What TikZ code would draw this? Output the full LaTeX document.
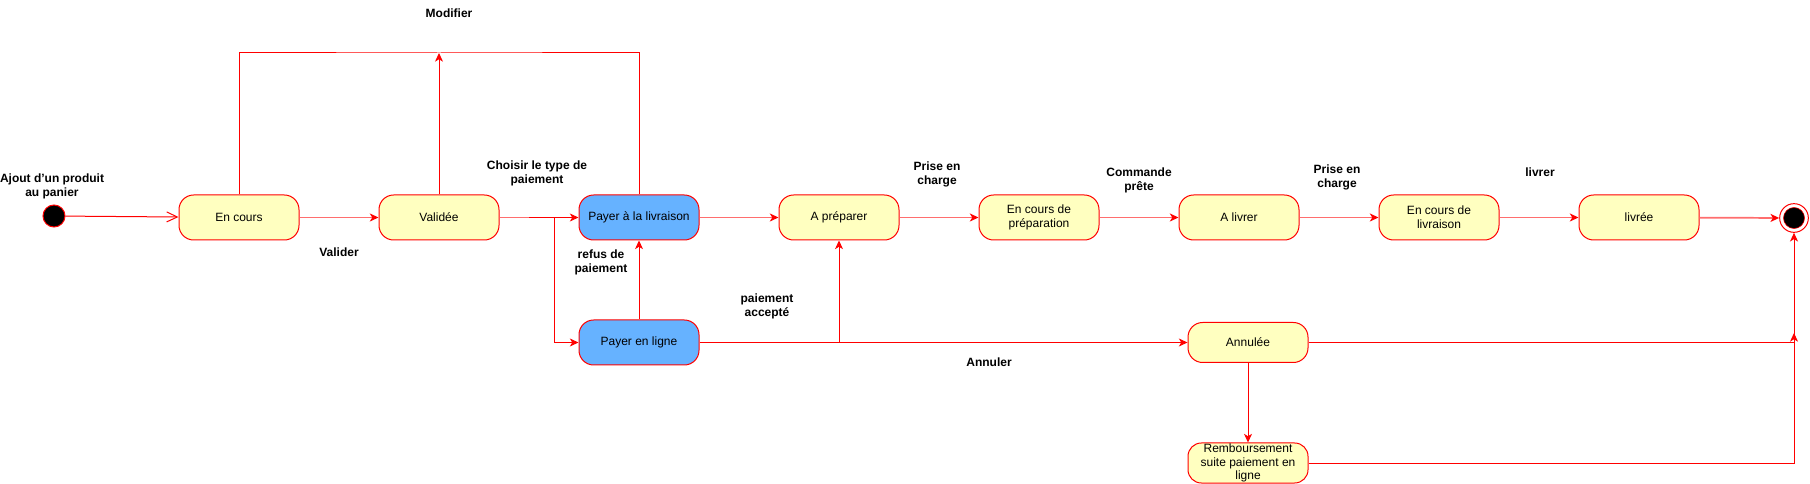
\documentclass[tikz,border=0pt]{standalone}
\usepackage{fontspec}
\setmainfont{Liberation Sans}
\usetikzlibrary{arrows.meta}
\definecolor{stfill}{HTML}{FFFFC0}
\definecolor{stblue}{HTML}{66B2FF}
\definecolor{lred}{HTML}{FF0000}
\definecolor{pale}{HTML}{FF6E6E}
\begin{document}
\begin{tikzpicture}[x=0.75pt,y=-0.75pt,
  statebox/.style={draw=lred, fill=stfill, rounded corners=11pt, minimum width=90pt,
    minimum height=33.75pt, inner sep=0pt, align=center, line width=0.75pt,
    font=\fontsize{9}{10.3}\selectfont},
  paybox/.style={statebox, fill=stblue},
  lbl/.style={font=\bfseries\fontsize{9}{10.5}\selectfont, align=center, inner sep=0pt},
  edge/.style={draw=lred, line width=0.75pt, -{Stealth[length=6.5pt,width=6pt,inset=1.8pt]}},
  paleedge/.style={draw=pale, line width=1.3pt, -{Stealth[length=6.5pt,width=6pt,inset=1.8pt,color=lred]}},
  openedge/.style={draw=lred, line width=0.75pt, -{Straight Barb[length=8pt,width=7.5pt]}}
]
\useasboundingbox (0,0) rectangle (1810,484);

% states
\node[circle, draw=lred, fill=black, minimum size=16.5pt, inner sep=0pt, line width=0.75pt] (start) at (54,216) {};
\node[statebox] (encours) at (239,217.5) {En cours};
\node[statebox] (validee) at (439,217.5) {Validée};
\node[paybox] (livraison) at (639,217.5) {Payer à la livraison};
\node[paybox] (enligne) at (639,342.5) {Payer en ligne};
\node[statebox] (prep) at (839,217.5) {A préparer};
\node[statebox] (encoursprep) at (1039,217.5) {En cours de\\préparation};
\node[statebox] (alivrer) at (1239,217.5) {A livrer};
\node[statebox] (encourslivr) at (1439,217.5) {En cours de\\livraison};
\node[statebox] (livree) at (1639,217.5) {livrée};
\node[statebox, minimum height=30pt] (annulee) at (1248,342.5) {Annulée};
\node[statebox, minimum height=30pt, rounded corners=10pt] (remb) at (1248,463) {Remboursement\\suite paiement en\\ligne};
\node[circle, draw=lred, fill=white, minimum size=21.5pt, inner sep=0pt, line width=0.75pt] (final) at (1794,218) {};
\fill[black, draw=lred, line width=0.4pt] (final.center) circle (7.9pt);

% helper points
\coordinate (j1) at (529,217.5);
\coordinate (j2) at (554,217.5);
\coordinate (top) at (439,53);
\coordinate (annj) at (1794,333);

% connectors
\draw[openedge] (start) -- (encours);
\draw[paleedge] (encours) -- (validee);
\draw[draw=pale, line width=1.3pt] (validee) -- (j1);
\draw[edge] (j1) -- (livraison);
\draw[edge] (j2) |- (enligne);
\draw[edge] (enligne) -- (livraison);
\draw[paleedge] (livraison) -- (prep);
\draw[edge] (enligne.east -| prep) -- (prep.south);
\draw[draw=lred, line width=0.75pt] (enligne.east) -- (enligne.east -| prep);
\draw[edge] (enligne.east -| prep) -- (annulee.west);
\draw[paleedge] (prep) -- (encoursprep);
\draw[paleedge] (encoursprep) -- (alivrer);
\draw[paleedge] (alivrer) -- (encourslivr);
\draw[paleedge] (encourslivr) -- (livree);
\draw[paleedge] (livree) -- (final);
\draw[draw=lred, line width=0.75pt] (encours.north) |- (top) -| (livraison.north);
\draw[edge] (validee.north) -- (top);
\draw[edge] (annulee) -- (remb);
\draw[edge] (annulee.east) -| (annj);
\draw[edge] (remb.east) -| (final.south);

% labels
\node[lbl] (lajout) at (52,186) {Ajout d'un produit\\au panier};
\node[lbl] (lvalider) at (339,252) {Valider};
\node[lbl] (lmodifier) at (449,13) {Modifier};
\node[lbl] (lchoisir) at (537,173) {Choisir le type de\\paiement};
\node[lbl] (lrefus) at (601,262.5) {refus de\\paiement};
\node[lbl] (laccepte) at (767,306) {paiement\\accepté};
\node[lbl] (lprise1) at (937,174.5) {Prise en\\charge};
\node[lbl] (lcommande) at (1139,180) {Commande\\prête};
\node[lbl] (lprise2) at (1337,177) {Prise en\\charge};
\node[lbl] (llivrer) at (1540,172) {livrer};
\node[lbl] (lannuler) at (989,362) {Annuler};
\end{tikzpicture}
\end{document}
